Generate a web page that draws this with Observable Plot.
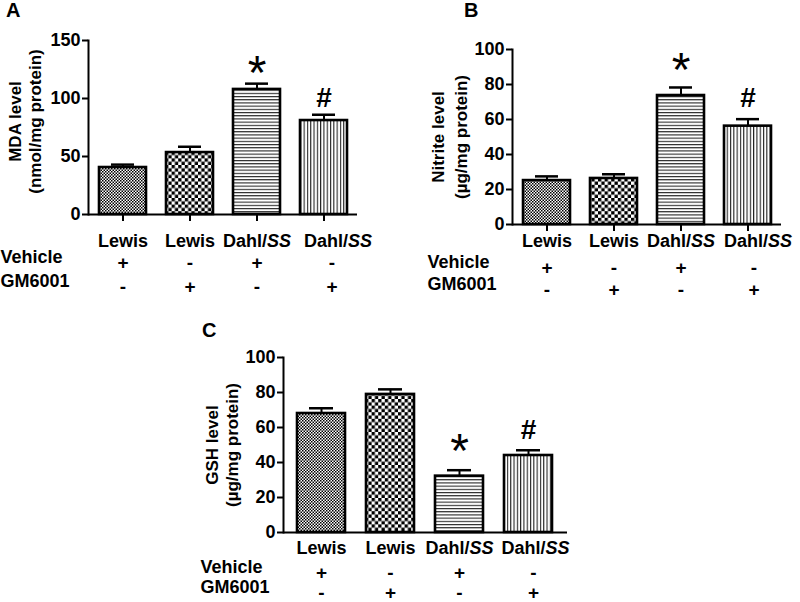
<!DOCTYPE html>
<html><head><meta charset="utf-8">
<script src="https://cdn.jsdelivr.net/npm/d3@7"></script>
<script src="https://cdn.jsdelivr.net/npm/@observablehq/plot@0.6"></script>
<style>
body{margin:0;background:#fff;width:800px;height:602px;position:relative;overflow:hidden;font-family:"Liberation Sans",Arial,sans-serif;}
.panel{position:absolute;}
.letter{position:absolute;font:bold 20px "Liberation Sans",Arial,sans-serif;color:#000;line-height:1;}
</style></head><body>
<svg width="0" height="0" style="position:absolute">
  <defs>
    <pattern id="fineCheck" width="3" height="3" patternUnits="userSpaceOnUse">
      <rect width="3" height="3" fill="#fff"/>
      <rect width="1.5" height="1.5" fill="#000"/>
      <rect x="1.5" y="1.5" width="1.5" height="1.5" fill="#000"/>
    </pattern>
    <pattern id="coarseCheck" width="6.6" height="6.6" patternUnits="userSpaceOnUse">
      <rect width="6.6" height="6.6" fill="#fff"/>
      <rect width="3.3" height="3.3" fill="#000"/>
      <rect x="3.3" y="3.3" width="3.3" height="3.3" fill="#000"/>
    </pattern>
    <pattern id="hLines" width="8" height="3.2" patternUnits="userSpaceOnUse">
      <rect width="8" height="3.2" fill="#fff"/>
      <rect width="8" height="1.1" fill="#222"/>
    </pattern>
    <pattern id="vLines" width="3.3" height="8" patternUnits="userSpaceOnUse">
      <rect width="3.3" height="8" fill="#fff"/>
      <rect width="1.1" height="8" fill="#222"/>
    </pattern>
  </defs>
</svg>
<div class="letter" style="left:6px;top:0px">A</div>
<div class="letter" style="left:464px;top:0px">B</div>
<div class="letter" style="left:202px;top:320px">C</div>
<div id="A" class="panel" style="left:0;top:0"></div>
<div id="B" class="panel" style="left:400px;top:0"></div>
<div id="C" class="panel" style="left:200px;top:300px"></div>
<script>
// ---- data ----
const groups = ["Lewis|Vehicle", "Lewis|GM6001", "Dahl/SS|Vehicle", "Dahl/SS|GM6001"];
const strains = ["Lewis", "Lewis", "Dahl/SS", "Dahl/SS"];
const vehicle = ["+", "-", "+", "-"];
const gm6001 = ["-", "+", "-", "+"];
const signif = ["", "", "*", "#"];

const mdaMean = [40.5, 53.4, 107.8, 81.0];
const mdaSem  = [2.5, 5.0, 5.0, 5.0];
const mdaTicks = [0, 50, 100, 150];

const nitriteMean = [25.1, 26.3, 73.7, 56.2];
const nitriteSem  = [2.4, 2.4, 4.6, 4.0];
const nitriteTicks = [0, 20, 40, 60, 80, 100];

const gshMean = [68.0, 78.9, 32.2, 44.0];
const gshSem  = [3.0, 2.9, 3.4, 3.0];
const gshTicks = [0, 20, 40, 60, 80, 100];

const fills = ["url(#fineCheck)", "url(#coarseCheck)", "url(#hLines)", "url(#vLines)"];

const FONT = "'Liberation Sans', Arial, sans-serif";

function panel(o) {
  const data = groups.map((g, i) => ({
    g, strain: strains[i], veh: vehicle[i], gm: gm6001[i],
    mean: o.mean[i], top: o.mean[i] + o.sem[i], fill: fills[i], sym: signif[i]
  }));
  const first = data.slice(0, 3), last = data.slice(3);
  const svg = Plot.plot({
    width: o.width, height: o.height,
    marginLeft: o.ml, marginRight: o.mr, marginTop: o.mt, marginBottom: o.mb,
    style: {fontFamily: FONT, fontWeight: "bold", fontSize: "18px", color: "#000", background: "transparent", overflow: "visible"},
    x: {domain: groups, paddingInner: 0.3, paddingOuter: o.po, axis: null},
    y: {domain: o.domain, axis: null},
    color: {type: "identity"},
    marks: [
      Plot.axisY({ticks: o.ticks, tickSize: 6, tickPadding: 2, tickFormat: d => String(d), label: null, strokeWidth: 2, fontSize: 18}),
      o.xTicks ? Plot.axisX({tickSize: 7, tickFormat: () => "", label: null, strokeWidth: 2}) : null,
      Plot.barY(data, {x: "g", y: "mean", fill: "fill", stroke: "#000", strokeWidth: 2.6}),
      Plot.ruleX(data, {x: "g", y1: "mean", y2: "top", stroke: "#000", strokeWidth: 2}),
      Plot.tickY(data, {x: "g", y: "top", stroke: "#000", strokeWidth: 2.5, insetLeft: 12, insetRight: 12}),
      Plot.text(data.filter(d => d.sym === "*"), {x: "g", y: "top", text: "sym", fontSize: 48, fontWeight: "normal", dy: o.starDy}),
      Plot.text(data.filter(d => d.sym === "#"), {x: "g", y: "top", text: "sym", fontSize: 28, fontWeight: "bold", dy: o.hashDy}),
      Plot.ruleY([0], {stroke: "#000", strokeWidth: 2}),
      Plot.frame({anchor: "left", stroke: "#000", strokeWidth: 2}),
      Plot.text(first, {x: "g", y: () => 0, text: "strain", dy: o.catDy, fontSize: 18, fontWeight: "bold"}),
      Plot.text(last, {x: "g", y: () => 0, text: "strain", dx: o.lastDx[0], dy: o.catDy, fontSize: 18, fontWeight: "bold"}),
      Plot.text(first, {x: "g", y: () => 0, text: "veh", dy: o.rowDy[0], fontSize: 19, fontWeight: "bold"}),
      Plot.text(last, {x: "g", y: () => 0, text: "veh", dx: o.lastDx[1], dy: o.rowDy[0], fontSize: 19, fontWeight: "bold"}),
      Plot.text(first, {x: "g", y: () => 0, text: "gm", dy: o.rowDy[1], fontSize: 19, fontWeight: "bold"}),
      Plot.text(last, {x: "g", y: () => 0, text: "gm", dx: o.lastDx[1], dy: o.rowDy[1], fontSize: 19, fontWeight: "bold"}),
      Plot.text(["Vehicle"], {frameAnchor: "bottom-left", textAnchor: "start", dx: o.rowX - o.ml, dy: o.rowDy[0], fontSize: 18, fontWeight: "bold"}),
      Plot.text(["GM6001"], {frameAnchor: "bottom-left", textAnchor: "start", dx: o.rowX - o.ml, dy: o.rowDy[1], fontSize: 18, fontWeight: "bold"}),
      Plot.text([o.title1], {frameAnchor: "left", textAnchor: "middle", rotate: -90, dx: o.titleDx[0], dy: o.titleDy, fontSize: 17, fontWeight: "bold"}),
      Plot.text([o.title2], {frameAnchor: "left", textAnchor: "middle", rotate: -90, dx: o.titleDx[1], dy: o.titleDy, fontSize: 17, fontWeight: "bold"})
    ]
  });
  d3.select(svg).selectAll("text").each(function() {
    if (this.textContent === "Dahl/SS" && this.childElementCount === 0) {
      this.textContent = "Dahl/";
      d3.select(this).append("tspan").attr("font-style", "italic").text("SS");
    }
  });
  return svg;
}

document.getElementById("A").appendChild(panel({
  mean: mdaMean, sem: mdaSem, domain: [0, 150], ticks: mdaTicks,
  width: 400, height: 300, ml: 88, mr: 43, mt: 40, mb: 86, po: 0.15, xTicks: true,
  catDy: 27, rowDy: [48, 72], rowX: 0, lastDx: [14, 8],
  title1: "MDA level", title2: "(nmol/mg protein)", titleDx: [-73, -53], titleDy: -6,
  starDy: -10, hashDy: -17
}));
document.getElementById("B").appendChild(panel({
  mean: nitriteMean, sem: nitriteSem, domain: [0, 100], ticks: nitriteTicks,
  width: 400, height: 300, ml: 112, mr: 19, mt: 49, mb: 76, po: 0.15, xTicks: true,
  catDy: 17, rowDy: [43, 65], rowX: 27, lastDx: [10, 6],
  title1: "Nitrite level", title2: "(µg/mg protein)", titleDx: [-74, -51], titleDy: 0,
  starDy: -17, hashDy: -21
}));
document.getElementById("C").appendChild(panel({
  mean: gshMean, sem: gshSem, domain: [0, 100], ticks: gshTicks,
  width: 400, height: 302, ml: 83, mr: 33, mt: 57, mb: 70, po: 0.2, xTicks: false,
  catDy: 16, rowDy: [40, 60], rowX: 0, lastDx: [7, 5],
  title1: "GSH level", title2: "(µg/mg protein)", titleDx: [-71, -51], titleDy: 0,
  starDy: -19, hashDy: -20
}));
</script>
</body></html>
